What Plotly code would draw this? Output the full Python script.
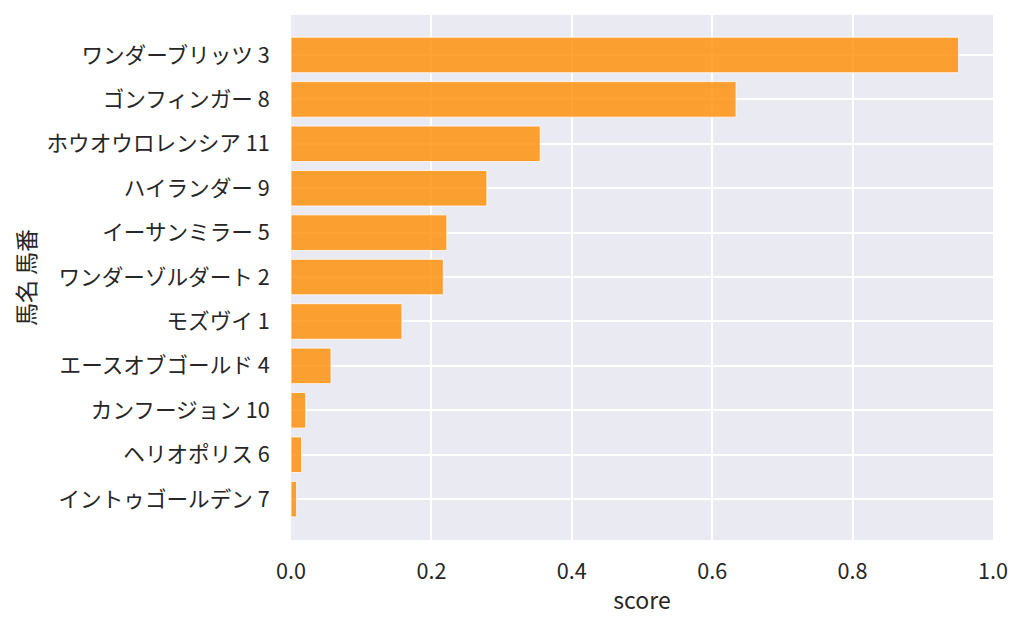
import plotly.graph_objects as go

HORSES = ["ワンダーブリッツ 3", "ゴンフィンガー 8", "ホウオウロレンシア 11", "ハイランダー 9",
          "イーサンミラー 5", "ワンダーゾルダート 2", "モズヴイ 1", "エースオブゴールド 4",
          "カンフージョン 10", "ヘリオポリス 6", "イントゥゴールデン 7"]
SCORES = [0.951, 0.634, 0.355, 0.279, 0.222, 0.217, 0.158, 0.057, 0.021, 0.015, 0.008]

FONT = "Noto Sans CJK JP"
TEXT = "#262626"

fig = go.Figure()
fig.add_trace(go.Bar(
    x=SCORES, y=HORSES, orientation="h", width=0.8,
    marker=dict(color="rgba(255,140,0,0.8)", line=dict(color="rgba(255,255,255,0.8)", width=1)),
))
# page body has an 8px margin, so margins are shifted to land the plot where the reference has it
fig.update_layout(
    width=1024, height=627, showlegend=False,
    margin=dict(l=283, r=39, t=7, b=95),
    paper_bgcolor="white", plot_bgcolor="#eaeaf2",
    font=dict(family=FONT, size=21.6, color=TEXT),
    xaxis=dict(
        title=dict(text="score", font=dict(size=23), standoff=8),
        range=[0, 1.0], tickvals=[0, 0.2, 0.4, 0.6, 0.8, 1.0], tickformat=".1f",
        gridcolor="white", gridwidth=1.5, zeroline=False, showline=False,
        ticks="outside", ticklen=12, tickcolor="rgba(0,0,0,0)",
    ),
    yaxis=dict(
        title=dict(text="馬名 馬番", font=dict(size=23), standoff=6),
        range=[10.92, -0.9], gridcolor="white", gridwidth=1.5, zeroline=False,
        ticks="outside", ticklen=16, tickcolor="rgba(0,0,0,0)",
    ),
)
fig.write_html("out.html")
